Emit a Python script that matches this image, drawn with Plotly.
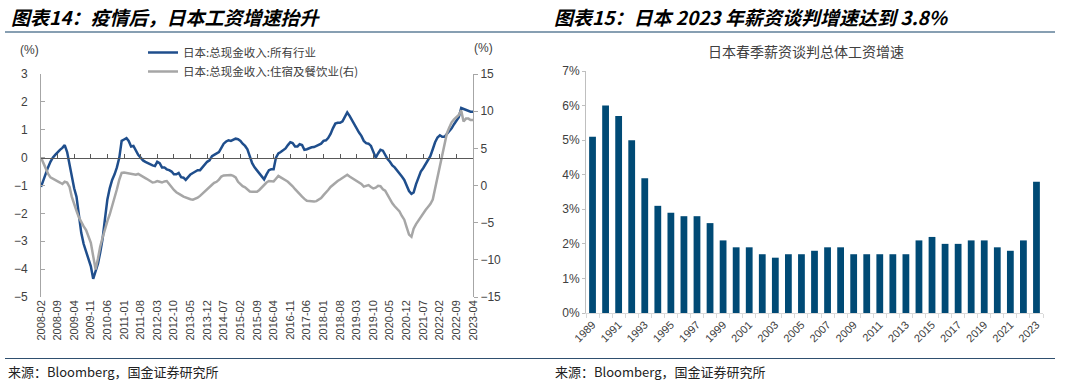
import plotly.graph_objects as go
import pandas as pd

# ---------------- data ----------------
months = pd.date_range("2008-02-01", "2023-04-01", freq="MS")

wage_all = [
    -1.05, -0.8, -0.55, -0.35, -0.15, 0.0, 0.1, 0.2, 0.28, 0.35,
    0.45, 0.2, -0.3, -0.7, -1.1, -1.4, -2.0, -2.7, -3.1, -3.4,
    -3.6, -3.9, -4.35, -4.1, -3.8, -3.4, -2.9, -2.2, -1.5, -1.1,
    -0.8, -0.6, -0.35, 0.0, 0.6, 0.65, 0.7, 0.6, 0.4, 0.42,
    0.25, 0.1, 0.0, -0.1, -0.15, -0.2, -0.22, -0.28, -0.3, -0.15,
    -0.2, -0.35, -0.35, -0.42, -0.45, -0.5, -0.6, -0.6, -0.55, -0.7,
    -0.72, -0.8, -0.7, -0.6, -0.55, -0.5, -0.45, -0.45, -0.35, -0.25,
    -0.15, -0.1, 0.05, 0.1, 0.15, 0.2, 0.35, 0.5, 0.58, 0.62,
    0.6, 0.65, 0.68, 0.66, 0.6, 0.5, 0.42, 0.3, 0.05, -0.2,
    -0.35, -0.45, -0.55, -0.65, -0.78, -0.6, -0.45, -0.42, -0.42, 0.0,
    0.15, 0.2, 0.28, 0.33, 0.45, 0.55, 0.52, 0.4, 0.4, 0.48,
    0.45, 0.28, 0.3, 0.35, 0.37, 0.38, 0.42, 0.45, 0.5, 0.6,
    0.62, 0.7, 0.85, 1.05, 1.22, 1.25, 1.25, 1.3, 1.45, 1.62,
    1.5, 1.35, 1.15, 1.05, 0.9, 0.78, 0.6, 0.52, 0.5, 0.42,
    0.2, 0.0, 0.15, 0.28, 0.25, 0.08, -0.05, -0.15, -0.28, -0.35,
    -0.45, -0.55, -0.68, -0.8, -0.98, -1.2, -1.3, -1.25, -0.95, -0.7,
    -0.5, -0.38, -0.25, -0.12, 0.05, 0.3, 0.55, 0.72, 0.8, 0.75,
    0.75, 0.85, 0.95, 1.05, 1.2, 1.35, 1.45, 1.78, 1.75, 1.72,
    1.68, 1.65, 1.65,
]

wage_hotel = [
    3.75, 3.0, 2.2, 1.6, 1.1, 0.9, 0.7, 0.5, 0.4, 0.2,
    0.5, 0.4, -0.2, -1.5, -2.6, -3.4, -4.3, -5.0, -5.5, -6.0,
    -6.8, -7.7, -9.5, -11.3, -9.8, -8.2, -7.0, -5.8, -4.8, -3.9,
    -2.8, -1.8, -0.5, 0.8, 1.7, 1.75, 1.7, 1.65, 1.55, 1.6,
    1.45, 1.55, 1.4, 1.2, 1.0, 0.8, 0.6, 0.4, 0.45, 0.6,
    0.5, 0.4, 0.55, 0.6, 0.2, -0.3, -0.6, -0.9, -1.05, -1.3,
    -1.5, -1.6, -1.8, -1.85, -1.9, -1.8, -1.65, -1.4, -1.1, -0.7,
    -0.4, -0.15, 0.1, 0.35, 0.5, 0.8, 1.2, 1.35, 1.4, 1.45,
    1.4, 1.3, 1.1, 0.5, 0.2, -0.1, -0.25, -0.5, -0.8, -0.85,
    -0.8, -0.85, -0.6, -0.25, 0.1, 0.4, 0.6, 0.55, 0.55, 0.9,
    1.3, 1.1, 0.85, 0.7, 0.5, 0.25, -0.1, -0.5, -0.9, -1.2,
    -1.5, -1.8, -2.05, -2.1, -2.15, -2.15, -2.1, -1.95, -1.7, -1.3,
    -1.0, -0.6, -0.2, 0.1, 0.4, 0.6, 0.8, 1.0, 1.3, 1.45,
    1.2, 1.0, 0.8, 0.6, 0.5, 0.2, -0.15, -0.1, 0.05, -0.2,
    -0.4, -0.3, -0.05, -0.1, -0.5, -0.7, -1.3, -1.9, -2.4, -2.8,
    -3.1, -3.5, -4.1, -4.6, -5.6, -6.6, -6.9, -5.8, -5.2, -4.7,
    -4.2, -3.7, -3.3, -2.9, -2.5, -1.9, -0.5, 1.2, 2.8, 4.0,
    5.5, 7.0, 7.8, 8.5, 8.9, 9.2, 9.5, 10.1, 8.6, 9.0,
    9.0, 8.8, 8.8,
]

tick_labels = [
    "2008-02", "2008-09", "2009-04", "2009-11", "2010-06", "2011-01", "2011-08",
    "2012-03", "2012-10", "2013-05", "2013-12", "2014-07", "2015-02", "2015-09",
    "2016-04", "2016-11", "2017-06", "2018-01", "2018-08", "2019-03", "2019-10",
    "2020-05", "2020-12", "2021-07", "2022-02", "2022-09", "2023-04",
]

years = list(range(1989, 2024))
shunto = [
    5.1, 6.0, 5.7, 5.0, 3.9, 3.1, 2.9, 2.8, 2.8, 2.6,
    2.1, 1.9, 1.9, 1.7, 1.6, 1.7, 1.7, 1.8, 1.9, 1.9,
    1.7, 1.7, 1.7, 1.7, 1.7, 2.1, 2.2, 2.0, 2.0, 2.1,
    2.1, 1.9, 1.8, 2.1, 3.8,
]

assert len(wage_all) == len(months) == len(wage_hotel)
assert len(years) == len(shunto)

# ---------------- layout helpers ----------------
W, H = 1080, 386
def px_x(p):
    return p / W
def px_y(p):
    return 1 - p / H

CJK = "Noto Sans CJK SC"
LAT = "Liberation Sans, Arial, sans-serif"
BLUE = "#1F4E8C"
GREY = "#A6A6A6"
BAR = "#004A75"

tick_dates = [pd.Timestamp(t + "-01") for t in tick_labels]

left_y_rng = [-5, 3]
left_dom = [px_y(297), px_y(74)]
zero_pos = left_dom[0] + (0 - left_y_rng[0]) / (left_y_rng[1] - left_y_rng[0]) * (left_dom[1] - left_dom[0])

fig = go.Figure()

fig.add_trace(go.Scatter(
    x=months, y=wage_all, name="日本:总现金收入:所有行业",
    mode="lines", line=dict(color=BLUE, width=2.5), xaxis="x", yaxis="y",
))
fig.add_trace(go.Scatter(
    x=months, y=wage_hotel, name="日本:总现金收入:住宿及餐饮业(右)",
    mode="lines", line=dict(color=GREY, width=2.5), xaxis="x", yaxis="y2",
))
# helper (transparent) trace to carry the zero-line axis
fig.add_trace(go.Scatter(
    x=months, y=wage_all, mode="lines", line=dict(width=0, color="rgba(0,0,0,0)"),
    showlegend=False, hoverinfo="skip", xaxis="x3", yaxis="y",
))

fig.add_trace(go.Bar(
    x=years, y=shunto, marker_color=BAR, marker_line_width=0,
    showlegend=False, xaxis="x2", yaxis="y3",
))

axis_font = dict(family=LAT, size=12, color="#404040")

fig.update_layout(
    width=W, height=H, autosize=False,
    margin=dict(l=0, r=0, t=0, b=0, pad=0, autoexpand=False),
    paper_bgcolor="white", plot_bgcolor="white",
    font=dict(family=LAT, size=12, color="#333333"),
    bargap=0.48,
    showlegend=True,
    legend=dict(
        x=px_x(143), y=px_y(38), xanchor="left", yanchor="top",
        font=dict(family=CJK, size=11.5, color="#404040"),
        bgcolor="rgba(0,0,0,0)", tracegroupgap=0, itemwidth=30,
    ),
    xaxis=dict(
        domain=[px_x(41), px_x(473)], anchor="y", type="date",
        range=[months[0], months[-1]],
        tickmode="array", tickvals=tick_dates, ticktext=tick_labels,
        tickangle=-90, tickfont=dict(family=LAT, size=11, color="#404040"),
        showline=False, ticks="", showgrid=False, zeroline=False, automargin=False,
    ),
    xaxis3=dict(
        overlaying="x", anchor="free", position=zero_pos, type="date",
        range=[months[0], months[-1]],
        tickmode="array", tickvals=tick_dates, showticklabels=False,
        showline=True, linecolor="#595959", linewidth=1,
        ticks="inside", ticklen=4, tickcolor="#595959",
        showgrid=False, zeroline=False, automargin=False,
    ),
    yaxis=dict(
        domain=left_dom, anchor="x", range=left_y_rng, dtick=1,
        showline=True, linecolor="#A6A6A6", linewidth=1,
        ticks="inside", ticklen=4, tickcolor="#A6A6A6",
        tickfont=axis_font, ticklabelstandoff=10,
        showgrid=False, zeroline=False, automargin=False,
    ),
    yaxis2=dict(
        overlaying="y", side="right", anchor="x", range=[-15, 15], dtick=5,
        showline=True, linecolor="#A6A6A6", linewidth=1,
        ticks="outside", ticklen=4, tickcolor="#A6A6A6",
        tickfont=axis_font, showgrid=False, zeroline=False, automargin=False,
    ),
    xaxis2=dict(
        domain=[px_x(586), px_x(1043)], anchor="y3", type="category",
        tickmode="array", tickvals=years,
        ticktext=[str(y) if (y - years[0]) % 2 == 0 else "" for y in years],
        tickangle=-45, tickfont=dict(family=LAT, size=11, color="#404040"),
        showline=True, linecolor="#D9D9D9", linewidth=1,
        ticks="outside", tickson="boundaries", ticklen=4, tickcolor="#D9D9D9",
        showgrid=False, zeroline=False, automargin=False,
    ),
    yaxis3=dict(
        domain=[px_y(313), px_y(71)], anchor="x2", range=[0, 7], dtick=1,
        ticksuffix="%", showline=True, linecolor="#BFBFBF", linewidth=1,
        ticks="outside", ticklen=3, tickcolor="#BFBFBF",
        tickfont=axis_font, showgrid=False, zeroline=False, automargin=False,
    ),
)

ann = []
ann.append(dict(text="<b><i>图表14：疫情后，日本工资增速抬升</i></b>",
                x=px_x(9), y=px_y(16), xanchor="left", yanchor="middle",
                font=dict(family=CJK, size=19, color="#000000")))
ann.append(dict(text="<b><i>图表15：日本 2023 年薪资谈判增速达到 3.8%</i></b>",
                x=px_x(552), y=px_y(16), xanchor="left", yanchor="middle",
                font=dict(family=CJK, size=19, color="#000000")))
ann.append(dict(text="(%)", x=px_x(29), y=px_y(50), xanchor="center", yanchor="middle",
                font=dict(family=LAT, size=12, color="#404040")))
ann.append(dict(text="(%)", x=px_x(483), y=px_y(48), xanchor="center", yanchor="middle",
                font=dict(family=LAT, size=12, color="#404040")))
ann.append(dict(text="日本春季薪资谈判总体工资增速", x=px_x(806), y=px_y(51),
                xanchor="center", yanchor="middle",
                font=dict(family=CJK, size=14, color="#404040")))
for sx in (6, 553):
    ann.append(dict(text="来源：Bloomberg，国金证券研究所", x=px_x(sx), y=px_y(371),
                    xanchor="left", yanchor="middle",
                    font=dict(family=CJK, size=13, color="#222222")))
for a in ann:
    a.update(xref="paper", yref="paper", showarrow=False)
fig.update_layout(annotations=ann)

fig.update_layout(shapes=[
    dict(type="line", xref="paper", yref="paper", x0=px_x(5), x1=px_x(1055),
         y0=px_y(32), y1=px_y(32), line=dict(color="#5F7F99", width=1.5)),
    dict(type="line", xref="paper", yref="paper", x0=px_x(5), x1=px_x(1055),
         y0=px_y(358.5), y1=px_y(358.5), line=dict(color="#2F4F6F", width=1.2)),
])

fig.write_html(
    "out.html",
    config={"displayModeBar": False},
    post_script="document.body.style.margin='0';document.body.style.padding='0';"
                "document.documentElement.style.overflow='hidden';",
)
